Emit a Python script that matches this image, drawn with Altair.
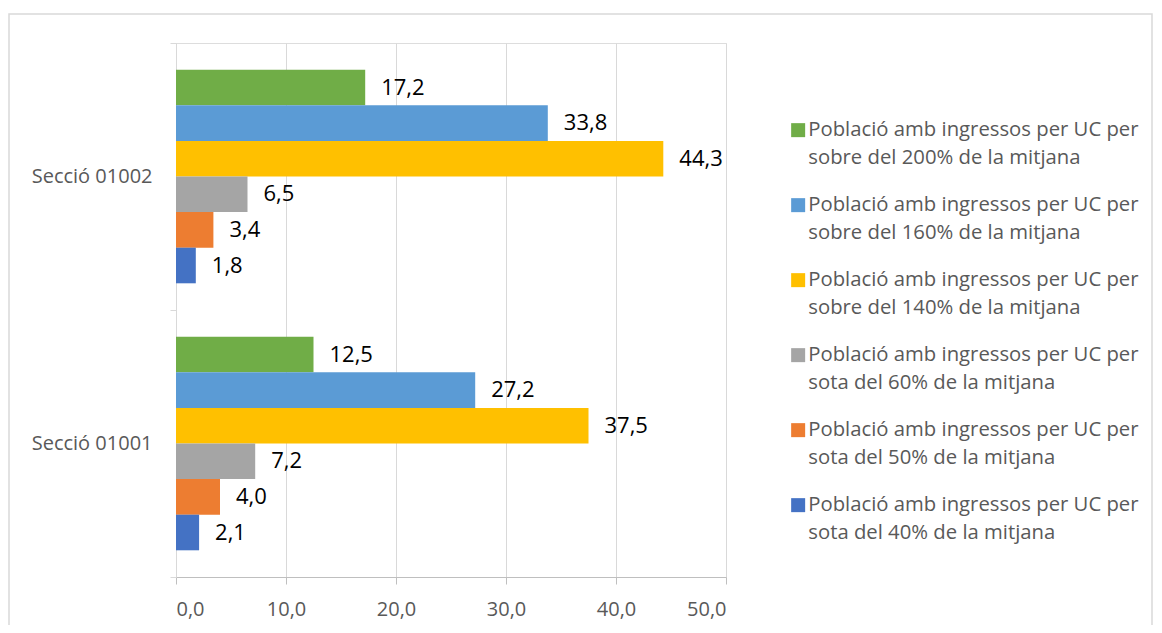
import altair as alt
import pandas as pd

categories = ["Secció 01002", "Secció 01001"]
series = [
    "Població amb ingressos per UC per sobre del 200% de la mitjana",
    "Població amb ingressos per UC per sobre del 160% de la mitjana",
    "Població amb ingressos per UC per sobre del 140% de la mitjana",
    "Població amb ingressos per UC per sota del 60% de la mitjana",
    "Població amb ingressos per UC per sota del 50% de la mitjana",
    "Població amb ingressos per UC per sota del 40% de la mitjana",
]
colors = ["#70AD47", "#5B9BD5", "#FFC000", "#A5A5A5", "#ED7D31", "#4472C4"]
values_01002 = [17.2, 33.8, 44.3, 6.5, 3.4, 1.8]
values_01001 = [12.5, 27.2, 37.5, 7.2, 4.0, 2.1]
x_ticks = [0, 10, 20, 30, 40, 50]

rows = []
for cat, vals in ((categories[0], values_01002), (categories[1], values_01001)):
    for s, v in zip(series, vals):
        rows.append({"secc": cat, "serie": s, "valor": v,
                     "etiqueta": f"{v:.1f}".replace(".", ",")})
df = pd.DataFrame(rows)

FONT = "Open Sans"
GREY = "#595959"

y_enc = alt.Y(
    "secc:N", sort=categories, title=None,
    scale=alt.Scale(paddingInner=0, paddingOuter=0),
    axis=alt.Axis(tickBand="extent", domainColor="#d9d9d9", tickColor="#d9d9d9",
                  tickSize=6, labelPadding=18, labelFontSize=20, labelColor=GREY,
                  labelFont=FONT, grid=False),
)
yoff_enc = alt.YOffset("serie:N", sort=series,
                       scale=alt.Scale(paddingInner=0, paddingOuter=0.75))
x_enc = alt.X(
    "valor:Q", title=None,
    scale=alt.Scale(domain=[0, 50], nice=False),
    axis=alt.Axis(values=x_ticks, grid=True, gridColor="#d9d9d9", gridWidth=1,
                  domainColor="#bfbfbf", tickColor="#bfbfbf", tickSize=7,
                  labelFontSize=20, labelColor=GREY, labelFont=FONT, labelPadding=15,
                  labelExpr="replace(format(datum.value, '.1f'), '.', ',')"),
)

bars = alt.Chart(df).mark_bar().encode(
    x=x_enc, y=y_enc, yOffset=yoff_enc,
    color=alt.Color(
        "serie:N", sort=series,
        scale=alt.Scale(domain=series, range=colors),
        legend=alt.Legend(
            title=None, orient="none", legendX=612, legendY=77,
            symbolType="square", symbolSize=196, symbolStrokeWidth=0,
            labelFontSize=20.3, labelFont=FONT, labelColor=GREY, labelLimit=600,
            labelOffset=0, rowPadding=26, padding=0,
            labelExpr="[slice(datum.label, 0, 33), slice(datum.label, 34)]",
        ),
    ),
)

labels = alt.Chart(df).mark_text(
    align="left", baseline="middle", dx=16, fontSize=22, font=FONT, color="black"
).encode(x=x_enc, y=y_enc, yOffset=yoff_enc, text="etiqueta:N")

border = alt.Chart(alt.Data(values=[{"a": 1}])).mark_rect(
    fillOpacity=0, stroke="#d9d9d9", strokeWidth=1.5, clip=False
).encode(x=alt.value(-167), x2=alt.value(976), y=alt.value(-29), y2=alt.value(640))

chart = alt.layer(border, bars, labels).properties(
    width=550, height=534,
    autosize=alt.AutoSizeParams(type="none"),
    padding={"left": 168, "top": 35, "right": 428, "bottom": 48},
).configure_view(strokeOpacity=0).configure(
    style={"guide-label": {"lineHeight": 28}}
)

chart.save("out.html", embed_options={"renderer": "svg", "actions": False})
